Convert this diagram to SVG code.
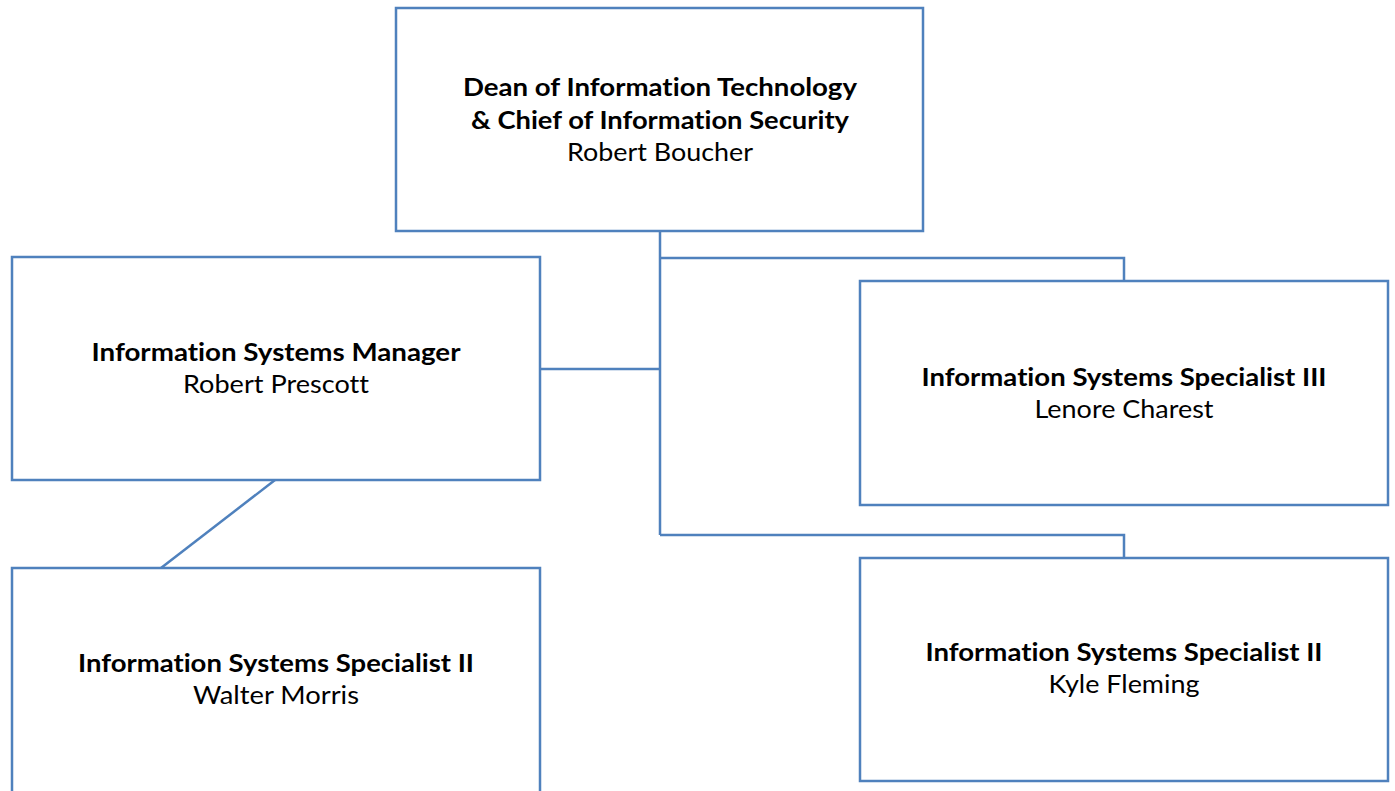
<svg xmlns="http://www.w3.org/2000/svg" width="1395" height="791" viewBox="0 0 1395 791">
<style>
.box{fill:#fff;stroke:#4f81bd;stroke-width:2.5}
.ln{fill:none;stroke:#4f81bd;stroke-width:2.5}
text{font-family:Lato,"Liberation Sans",sans-serif;font-size:25px;fill:#000;text-anchor:middle;font-variant-ligatures:none}
.b{font-weight:bold}
</style>
<rect width="1395" height="791" fill="#fff"/>
<g id="connectors">
<polyline class="ln" points="660,231 660,535"/>
<polyline class="ln" points="660,258 1124,258 1124,281"/>
<polyline class="ln" points="540,369 660,369"/>
<polyline class="ln" points="660,535 1124,535 1124,558"/>
<line class="ln" x1="275" y1="480" x2="161" y2="568"/>
</g>
<g id="dean">
<rect class="box" x="396" y="8" width="527" height="223"/>
<text class="b" x="660" y="96" textLength="394" lengthAdjust="spacingAndGlyphs">Dean of Information Technology</text>
<text class="b" x="660" y="129" textLength="378" lengthAdjust="spacingAndGlyphs">&amp; Chief of Information Security</text>
<text x="660" y="161" textLength="186" lengthAdjust="spacingAndGlyphs">Robert Boucher</text>
</g>
<g id="manager">
<rect class="box" x="12" y="257" width="528" height="223"/>
<text class="b" x="276" y="361" textLength="369" lengthAdjust="spacingAndGlyphs">Information Systems Manager</text>
<text x="276" y="393" textLength="186" lengthAdjust="spacingAndGlyphs">Robert Prescott</text>
</g>
<g id="lenore">
<rect class="box" x="860" y="281" width="528" height="224"/>
<text class="b" x="1124" y="386" textLength="405" lengthAdjust="spacingAndGlyphs">Information Systems Specialist III</text>
<text x="1124" y="418" textLength="179" lengthAdjust="spacingAndGlyphs">Lenore Charest</text>
</g>
<g id="walter">
<rect class="box" x="12" y="568" width="528" height="240"/>
<text class="b" x="276" y="672" textLength="396" lengthAdjust="spacingAndGlyphs">Information Systems Specialist II</text>
<text x="276" y="704" textLength="166" lengthAdjust="spacingAndGlyphs">Walter Morris</text>
</g>
<g id="kyle">
<rect class="box" x="860" y="558" width="528" height="223"/>
<text class="b" x="1124" y="661" textLength="397" lengthAdjust="spacingAndGlyphs">Information Systems Specialist II</text>
<text x="1124" y="693" textLength="151" lengthAdjust="spacingAndGlyphs">Kyle Fleming</text>
</g>
</svg>
